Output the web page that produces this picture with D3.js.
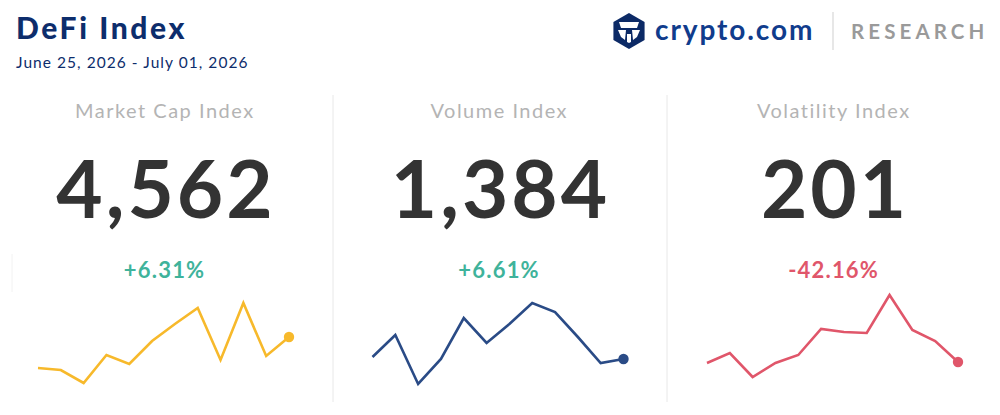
<!DOCTYPE html>
<html>
<head>
<meta charset="utf-8">
<script src="https://cdn.jsdelivr.net/npm/d3@7"></script>
<style>
  body { margin: 0; background: #fff; }
  svg { display: block; font-family: Lato, "Open Sans", sans-serif; }
</style>
</head>
<body>
<svg id="chart" width="1000" height="415"></svg>
<script>
// panel data
const panelNames = ["Market Cap Index", "Volume Index", "Volatility Index"];
const panelValues = ["4,562", "1,384", "201"];
const panelChanges = ["+6.31%", "+6.61%", "-42.16%"];
const panelColors = ["#f7b92b", "#2a4b86", "#e0566a"];

// sparkline values (relative level)
const marketCapSeries = [27, 25, 12, 40, 31, 54, 71, 87, 35, 92, 39, 58];
const volumeSeries = [38, 60, 11, 36, 77, 52, 71, 92, 83, 58, 32, 36];
const volatilitySeries = [32, 42, 18, 32, 40, 66, 63, 62, 100, 65, 54, 33];
const allSeries = [marketCapSeries, volumeSeries, volatilitySeries];

const svg = d3.select("#chart");

// header
svg.append("text")
  .attr("x", 16).attr("y", 39)
  .attr("font-size", 30).attr("font-weight", 900)
  .attr("letter-spacing", 2.6)
  .attr("fill", "#0d2d6c")
  .text("DeFi Index");

svg.append("text")
  .attr("x", 16).attr("y", 68)
  .attr("font-size", 15.5)
  .attr("letter-spacing", 1.05)
  .attr("fill", "#0d2d6c")
  .text("June 25, 2026 - July 01, 2026");

// logo
const logo = svg.append("g").attr("transform", "translate(629,31)");
const hex = d3.range(6).map(i => {
  const a = Math.PI / 3 * i - Math.PI / 2;
  return [18 * Math.cos(a), 18 * Math.sin(a)];
});
logo.append("path")
  .attr("d", d3.line()(hex) + "Z")
  .attr("fill", "#0c2a66");
// inner shield shapes
logo.append("path")
  .attr("d", "M-10,-9 L10,-9 L8,-3 L-8,-3 Z")
  .attr("fill", "#fff");
logo.append("path")
  .attr("d", "M-11,-1 L-3,-1 L-4,9 L-8,6 Z M11,-1 L3,-1 L4,9 L8,6 Z M-2,3 L2,3 L2,11 L0,12 L-2,11 Z")
  .attr("fill", "#fff");

svg.append("text")
  .attr("x", 655).attr("y", 40)
  .attr("font-size", 28).attr("font-weight", 700)
  .attr("letter-spacing", 1.9)
  .attr("fill", "#103c8c")
  .text("crypto.com");

svg.append("line")
  .attr("x1", 833).attr("x2", 833)
  .attr("y1", 12).attr("y2", 50)
  .attr("stroke", "#cfcfcf").attr("stroke-width", 1);

svg.append("text")
  .attr("x", 851).attr("y", 39)
  .attr("font-size", 20.5).attr("font-weight", 700)
  .attr("letter-spacing", 4.1)
  .attr("fill", "#9a9a9a")
  .text("RESEARCH");

// panel dividers
[333, 667].forEach(x => {
  svg.append("line")
    .attr("x1", x).attr("x2", x)
    .attr("y1", 95).attr("y2", 402)
    .attr("stroke", "#e8e8e8").attr("stroke-width", 1);
});
svg.append("line")
  .attr("x1", 12).attr("x2", 12)
  .attr("y1", 254).attr("y2", 292)
  .attr("stroke", "#f2f2f2").attr("stroke-width", 1);

// shared y scale for sparklines
const y = d3.scaleLinear().domain([0, 100]).range([395, 295]);

panelNames.forEach((name, i) => {
  const cx = 164 + 334.5 * i;
  const g = svg.append("g");

  g.append("text")
    .attr("x", cx + 0.8).attr("y", 118)
    .attr("text-anchor", "middle")
    .attr("font-size", 20)
    .attr("letter-spacing", 1.5)
    .attr("fill", "#b4b4b4")
    .text(name);

  g.append("text")
    .attr("x", cx + 2).attr("y", 218)
    .attr("text-anchor", "middle")
    .attr("font-size", 80).attr("font-weight", 700)
    .attr("letter-spacing", 3)
    .attr("fill", "#333333")
    .text(panelValues[i]);

  g.append("text")
    .attr("x", cx + 0.6).attr("y", 278)
    .attr("text-anchor", "middle")
    .attr("font-size", 22).attr("font-weight", 700)
    .attr("letter-spacing", 1.2)
    .attr("fill", panelChanges[i].startsWith("-") ? "#e0566a" : "#3fb39b")
    .text(panelChanges[i]);

  const data = allSeries[i];
  const x = d3.scaleLinear()
    .domain([0, data.length - 1])
    .range([cx - 126, cx + 125]);

  g.append("path")
    .datum(data)
    .attr("d", d3.line().x((d, j) => x(j)).y(d => y(d)))
    .attr("fill", "none")
    .attr("stroke", panelColors[i])
    .attr("stroke-width", 2.6)
    .attr("stroke-linejoin", "miter");

  g.append("circle")
    .attr("cx", x(data.length - 1))
    .attr("cy", y(data[data.length - 1]))
    .attr("r", 5.2)
    .attr("fill", panelColors[i]);
});
</script>
</body>
</html>
